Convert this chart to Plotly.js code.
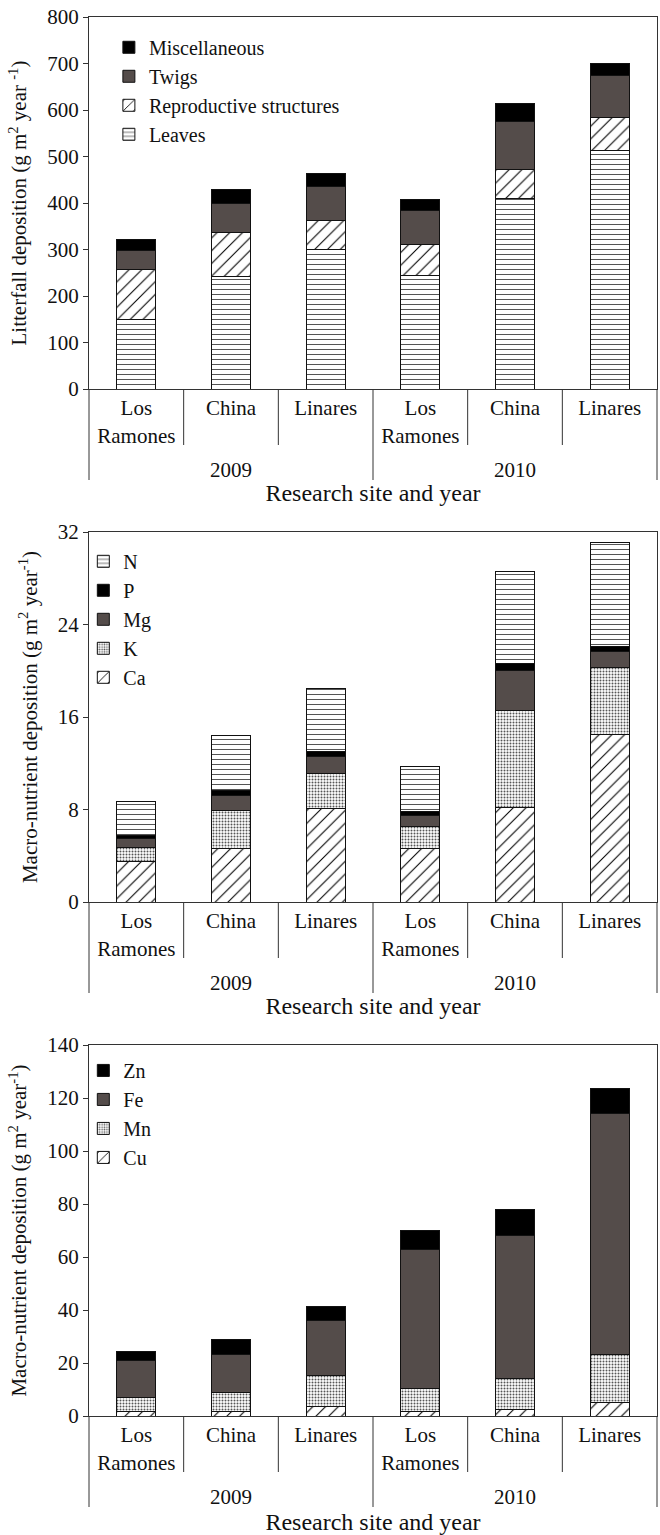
<!DOCTYPE html>
<html><head><meta charset="utf-8">
<script src="https://cdn.plot.ly/plotly-3.0.1.min.js"></script>
<style>body{margin:0;background:#fff}.c{width:660px}</style>
</head><body>
<div id="c1" class="c" style="height:512px"></div>
<div id="c2" class="c" style="height:512px"></div>
<div id="c3" class="c" style="height:511px"></div>
<script>
// ---- categories ----
const sites = ["Los<br>Ramones","China","Linares","Los<br>Ramones","China","Linares"];
const yearOfBar = ["2009","2009","2009","2010","2010","2010"];
const years = ["2009","2010"];
const xIndex = [0,1,2,3,4,5];

// ---- chart 1: litterfall (g m-2 year-1), segment heights ----
const leaves = [150,243,300,245,410,513];
const repro  = [108,94,62,65,62,70];
const twigs  = [39,63,73,73,103,92];
const misc   = [25,30,28,25,38,25];

// ---- chart 2: macro-nutrients ----
const Ca = [3.5,4.65,8.05,4.6,8.2,14.5];
const K  = [1.25,3.3,3.05,1.95,8.4,5.8];
const Mg = [0.7,1.25,1.5,0.9,3.4,1.4];
const P  = [0.3,0.47,0.45,0.35,0.6,0.4];
const N  = [2.9,4.73,5.45,3.9,8.0,9.0];

// ---- chart 3: micro-nutrients ----
const Cu = [1.6,1.6,3.5,1.6,2.5,5.2];
const Mn = [5.4,7.2,11.7,8.8,11.5,18];
const Fe = [13.9,14.5,20.8,52.6,54,91.1];
const Zn = [3.6,5.7,5.5,7,10,9.4];

const FONT = 'Liberation Serif, Times New Roman, serif';
const TXT = '#111111';
const DARK = '#544c4a';
const LINE = '#333333';
const BARW = 0.41;

const PAT = {
  dash:  {shape:'-', size:5, solidity:0.2, fgcolor:'#555', bgcolor:'#ffffff'},
  hatch: {shape:'/', size:9, solidity:0.12, fgcolor:'#000', bgcolor:'#ffffff'},
  dots:  {shape:'.', size:3, solidity:0.35, fgcolor:'#555', bgcolor:'#ffffff'}
};

function bar(name, vals, style){
  const m = {line:{color:'#111', width:1}};
  if (style === 'dark') m.color = DARK;
  else if (style === 'black') m.color = '#000';
  else { m.color = '#ffffff'; m.pattern = PAT[style]; }
  return {type:'bar', name:name, x:xIndex, y:vals, width:BARW, marker:m, hoverinfo:'skip'};
}

function layoutFor(opt){
  const plotH = opt.H - opt.t - opt.b;
  const shapes = [];
  for (let i = 0; i <= xIndex.length; i++){
    const isYearEdge = (i === 0 || i === xIndex.length || yearOfBar[i] !== yearOfBar[i-1]);
    const len = isYearEdge ? 91 : 56;
    shapes.push({type:'line', xref:'paper', yref:'paper', x0:i/xIndex.length, x1:i/xIndex.length,
      y0:0, y1:-len/plotH, line:{color:LINE, width:1}});
  }
  const annotations = years.map(yr => {
    const idx = xIndex.filter(i => yearOfBar[i] === yr);
    const cx = idx.reduce((a,b)=>a+b,0)/idx.length;
    return {text:yr, x:cx, xref:'x', y:-81/plotH, yref:'paper', yanchor:'middle', xanchor:'center',
      showarrow:false, font:{family:FONT, size:21, color:TXT}};
  });
  return {
    width:660, height:opt.H,
    margin:{l:89, r:3, t:opt.t, b:opt.b},
    paper_bgcolor:'#fff', plot_bgcolor:'#fff',
    barmode:'stack',
    font:{family:FONT, size:21, color:TXT},
    showlegend:true,
    legend:{x:opt.lx, y:opt.ly, xanchor:'left', yanchor:'top', traceorder:'reversed',
      bgcolor:'rgba(0,0,0,0)', font:{family:FONT, size:20, color:TXT}, itemwidth:30, tracegroupgap:0},
    xaxis:{range:[-0.5, xIndex.length-0.5], tickvals:xIndex, ticktext:sites, ticks:'',
      showline:true, mirror:true, linecolor:LINE, linewidth:1, showgrid:false, zeroline:false,
      tickfont:{family:FONT, size:21, color:TXT},
      title:{text:'Research site and year', standoff:opt.xs, font:{family:FONT, size:24, color:TXT}}},
    yaxis:{range:opt.yr, dtick:opt.dt, ticks:'outside', ticklen:5, tickcolor:LINE, showline:true, mirror:true,
      linecolor:LINE, linewidth:1, showgrid:false, zeroline:false,
      tickfont:{family:FONT, size:21, color:TXT},
      title:{text:opt.yt, standoff:opt.ys, font:{family:FONT, size:21, color:TXT}}},
    yaxis2:{overlaying:'y', side:'left', range:opt.yr, dtick:opt.dt, ticks:'inside', ticklen:5,
      tickcolor:LINE, showticklabels:false, showgrid:false, zeroline:false, showline:false},
    shapes:shapes, annotations:annotations
  };
}

const cfg = {staticPlot:true, displayModeBar:false};

Plotly.newPlot('c1', [
  bar('Leaves', leaves, 'dash'),
  bar('Reproductive structures', repro, 'hatch'),
  bar('Twigs', twigs, 'dark'),
  bar('Miscellaneous', misc, 'black')
], layoutFor({H:512, t:17, b:123, yr:[0,800], dt:100,
  yt:'Litterfall deposition (g m<sup>2</sup> year <sup>-1</sup>)', ys:14, xs:37, lx:0.035, ly:0.971}), cfg);

Plotly.newPlot('c2', [
  bar('Ca', Ca, 'hatch'),
  bar('K', K, 'dots'),
  bar('Mg', Mg, 'dark'),
  bar('P', P, 'black'),
  bar('N', N, 'dash')
], layoutFor({H:512, t:20, b:122, yr:[0,32], dt:8,
  yt:'Macro-nutrient deposition (g m<sup>2</sup> year<sup>-1</sup>)', ys:14, xs:37, lx:-0.010, ly:0.9735}), cfg);

Plotly.newPlot('c3', [
  bar('Cu', Cu, 'hatch'),
  bar('Mn', Mn, 'dots'),
  bar('Fe', Fe, 'dark'),
  bar('Zn', Zn, 'black')
], layoutFor({H:511, t:21, b:119, yr:[0,140], dt:20,
  yt:'Macro-nutrient deposition (g m<sup>2</sup> year<sup>-1</sup>)', ys:14, xs:39, lx:-0.010, ly:0.984}), cfg);
</script>
</body></html>
